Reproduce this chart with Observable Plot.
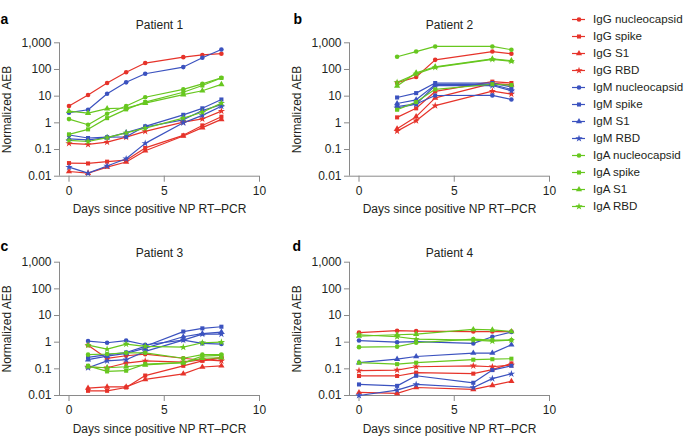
<!DOCTYPE html>
<html>
<head>
<meta charset="utf-8">
<script src="https://cdn.jsdelivr.net/npm/d3@7"></script>
<script src="https://cdn.jsdelivr.net/npm/@observablehq/plot@0.6"></script>
<style>
  html, body { margin: 0; padding: 0; background: #fff; }
  #fig { position: relative; width: 685px; height: 437px; overflow: hidden; }
  #fig svg { position: absolute; overflow: visible; }
</style>
</head>
<body>
<div id="fig"></div>
<script>
// ---- categories ----
const isotypes = ["IgG", "IgM", "IgA"];
const antigens = ["nucleocapsid", "spike", "S1", "RBD"];
const isoColors = ["#e6332a", "#3b52bf", "#67c71f"];
const agSymbols = ["circle", "square", "triangle", "star"];

// ---- axis ticks ----
const xTicks = [0, 5, 10];
const yTicks = [0.01, 0.1, 1, 10, 100, 1000];
const yTickLabels = ["0.01", "0.1", "1", "10", "100", "1,000"];

// ---- Patient 1 (rows: nucleocapsid, spike, S1, RBD) ----
const days1 = [0, 1, 2, 3, 4, 6, 7, 8];
const p1IgG = [
  [4.3, 11, 31, 79, 174, 290, 350, 390],
  [0.031, 0.03, 0.035, 0.04, 0.115, 0.34, 0.8, 1.7],
  [0.015, 0.013, 0.022, 0.034, 0.09, 0.32, 0.66, 1.35],
  [0.17, 0.155, 0.19, 0.29, 0.48, 1.07, 1.4, 2.75]
];
const p1IgM = [
  [2.4, 3.1, 12.3, 33, 69, 123, 275, 560],
  [0.35, 0.27, 0.29, 0.3, 0.74, 2.0, 3.5, 7.5],
  [0.25, 0.23, 0.28, 0.43, 0.7, 1.3, 2.9, 4.8],
  [0.022, 0.013, 0.024, 0.045, 0.17, 1.0, 1.9, 4.2]
];
const p1IgA = [
  [1.38, 0.85, 2.2, 4.3, 9.1, 18, 29, 49],
  [0.37, 0.57, 1.5, 3.2, 6, 14, 25, 48],
  [2.75, 2.3, 3.4, 3.6, 5.5, 11.4, 16, 27.5],
  [0.22, 0.2, 0.28, 0.42, 0.63, 1.5, 2.5, 5.5]
];

// ---- Patient 2 ----
const days2 = [2, 3, 4, 7, 8];
const p2IgG = [
  [32, 52, 230, 470, 390],
  [1.6, 3.5, 15, 35, 31],
  [0.6, 1.7, 8.6, 30, 27],
  [0.49, 1.2, 4.4, 15.5, 12]
];
const p2IgM = [
  [4.1, 5.1, 10.6, 10.7, 7.5],
  [8.9, 13, 31, 31, 22],
  [5.3, 7.3, 27, 27, 18],
  [3.6, 5, 25, 25, 16]
];
const p2IgA = [
  [300, 470, 730, 730, 550],
  [3.1, 6, 18, 28, 26],
  [24, 75, 126, 250, 215],
  [33, 68, 120, 240, 205]
];

// ---- Patient 3 ----
const days3 = [1, 2, 3, 4, 6, 7, 8];
const p3IgG = [
  [0.77, 0.245, 0.31, 0.355, 0.25, 0.21, 0.27],
  [0.015, 0.015, 0.02, 0.056, 0.13, 0.2, 0.25],
  [0.019, 0.021, 0.021, 0.04, 0.065, 0.117, 0.13],
  [0.117, 0.11, 0.165, 0.2, 0.18, 0.22, 0.2]
];
const p3IgM = [
  [1.1, 0.95, 1.15, 0.8, 1.2, 0.9, 0.85],
  [0.27, 0.34, 0.41, 0.7, 2.5, 3.3, 3.8],
  [0.22, 0.3, 0.38, 0.6, 1.6, 2.1, 2.4],
  [0.11, 0.2, 0.22, 0.45, 1.2, 2.0, 2.0]
];
const p3IgA = [
  [0.34, 0.36, 0.4, 0.4, 0.25, 0.34, 0.34],
  [0.13, 0.08, 0.085, 0.15, 0.17, 0.3, 0.32],
  [0.12, 0.11, 0.12, 0.14, 0.17, 0.25, 0.26],
  [0.77, 0.55, 0.85, 0.7, 0.65, 0.95, 1.0]
];

// ---- Patient 4 ----
const days4 = [0, 2, 3, 6, 7, 8];
const p4IgG = [
  [2.3, 2.7, 2.6, 2.5, 2.5, 2.5],
  [0.054, 0.054, 0.072, 0.066, 0.093, 0.16],
  [0.013, 0.012, 0.02, 0.017, 0.024, 0.034],
  [0.085, 0.09, 0.12, 0.13, 0.12, 0.14]
];
const p4IgM = [
  [1.15, 1.0, 1.05, 0.9, 1.6, 2.4],
  [0.026, 0.023, 0.055, 0.03, 0.09, 0.13],
  [0.17, 0.23, 0.29, 0.39, 0.39, 0.8],
  [0.01, 0.016, 0.026, 0.02, 0.043, 0.065]
];
const p4IgA = [
  [0.65, 0.68, 0.95, 1.3, 1.2, 1.2],
  [0.17, 0.15, 0.17, 0.22, 0.23, 0.24],
  [1.7, 1.9, 2.0, 3.0, 2.9, 2.5],
  [1.9, 1.6, 1.3, 1.2, 1.1, 1.2]
];

// ---- texts ----
const titles = ["Patient 1", "Patient 2", "Patient 3", "Patient 4"];
const letters = ["a", "b", "c", "d"];
const yLabel = "Normalized AEB";
const xLabel = "Days since positive NP RT\u2013PCR";

// ---- build tidy rows ----
function buildRows(days, groups) {
  const out = [];
  groups.forEach((g, i) => {
    g.forEach((vals, j) => {
      vals.forEach((v, k) => {
        out.push({day: days[k], v, iso: isotypes[i], ag: antigens[j], key: isotypes[i] + " " + antigens[j]});
      });
    });
  });
  return out;
}
const patients = [
  buildRows(days1, [p1IgG, p1IgM, p1IgA]),
  buildRows(days2, [p2IgG, p2IgM, p2IgA]),
  buildRows(days3, [p3IgG, p3IgM, p3IgA]),
  buildRows(days4, [p4IgG, p4IgM, p4IgA])
];

const FONT = "'Liberation Sans', Arial, Helvetica, sans-serif";
const axisGray = "#8a8a8a";
const ink = "#231f20";
const fig = document.getElementById("fig");

const layout = [
  {left: 0,   top: 0,   mt: 42.3, mb: 39.3, titleDy: -14,  letterDx: -59, letterDy: -19.3},
  {left: 290, top: 0,   mt: 42.3, mb: 39.3, titleDy: -14,  letterDx: -56, letterDy: -19.3},
  {left: 0,   top: 219, mt: 42.7, mb: 39,   titleDy: -5.2, letterDx: -59, letterDy: -11.7},
  {left: 290, top: 219, mt: 42.7, mb: 39,   titleDy: -5.2, letterDx: -57, letterDy: -11.7}
];

patients.forEach((data, i) => {
  const L = layout[i];
  const svg = Plot.plot({
    width: 270, height: 215,
    marginLeft: 59, marginRight: 11, marginTop: L.mt, marginBottom: L.mb,
    style: {fontFamily: FONT, fontSize: "12px", color: ink, background: "transparent", overflow: "visible"},
    x: {domain: [0, 10], insetLeft: 9.5, axis: null},
    y: {type: "log", domain: [0.01, 1000], axis: null},
    color: {domain: isotypes, range: isoColors},
    symbol: {domain: antigens, range: agSymbols},
    marks: [
      Plot.ruleY([0.01], {stroke: axisGray}),
      Plot.ruleX([0], {dx: -9.5, stroke: axisGray}),
      Plot.axisX({ticks: xTicks, tickSize: 6, tickPadding: 4, stroke: axisGray, fill: ink, label: null, fontSize: 12}),
      Plot.axisY({ticks: yTicks, tickFormat: d => yTickLabels[yTicks.indexOf(d)], tickSize: 5, tickPadding: 3, stroke: axisGray, fill: ink, label: null, fontSize: 12}),
      Plot.line(data, {x: "day", y: "v", z: "key", stroke: "iso", strokeWidth: 1.2}),
      Plot.dot(data, {x: "day", y: "v", fill: "iso", symbol: "ag", r: 2.3}),
      Plot.text([titles[i]], {text: d => d, frameAnchor: "top", dy: L.titleDy, lineAnchor: "bottom", textAnchor: "middle", fill: ink, fontSize: 12}),
      Plot.text([letters[i]], {text: d => d, frameAnchor: "top-left", dx: L.letterDx, dy: L.letterDy, lineAnchor: "bottom", textAnchor: "start", fill: "#000", fontWeight: "bold", fontSize: 14}),
      Plot.text([yLabel], {text: d => d, frameAnchor: "left", dx: -52, rotate: -90, textAnchor: "middle", lineAnchor: "middle", fill: ink, fontSize: 12}),
      Plot.text([xLabel], {text: d => d, frameAnchor: "bottom", dy: 37, lineAnchor: "bottom", textAnchor: "middle", fill: ink, fontSize: 12})
    ]
  });
  svg.style.left = L.left + "px";
  svg.style.top = L.top + "px";
  fig.appendChild(svg);
});

// ---- legend ----
const legendRows = [];
isotypes.forEach(iso => antigens.forEach(ag => legendRows.push({iso, ag, name: iso + " " + ag})));
const legend = Plot.plot({
  width: 125, height: 225,
  marginLeft: 0, marginRight: 0, marginTop: 0, marginBottom: 0,
  style: {fontFamily: FONT, fontSize: "12px", color: ink, background: "transparent", overflow: "visible"},
  x: {domain: [0, 1], range: [12, 25], axis: null},
  y: {type: "point", domain: legendRows.map(d => d.name), range: [5.7, 218.3], axis: null},
  color: {domain: isotypes, range: isoColors},
  symbol: {domain: antigens, range: agSymbols},
  marks: [
    Plot.ruleY(legendRows, {y: "name", x1: 0, x2: 1, stroke: "iso", strokeWidth: 1.2}),
    Plot.dot(legendRows, {x: 0.5, y: "name", fill: "iso", symbol: "ag", r: 2.3}),
    Plot.text(legendRows, {x: 1, y: "name", text: "name", dx: 7.5, textAnchor: "start", fill: ink, fontSize: 11.6})
  ]
});
legend.style.left = "560px";
legend.style.top = "0px";
fig.appendChild(legend);
</script>
</body>
</html>
